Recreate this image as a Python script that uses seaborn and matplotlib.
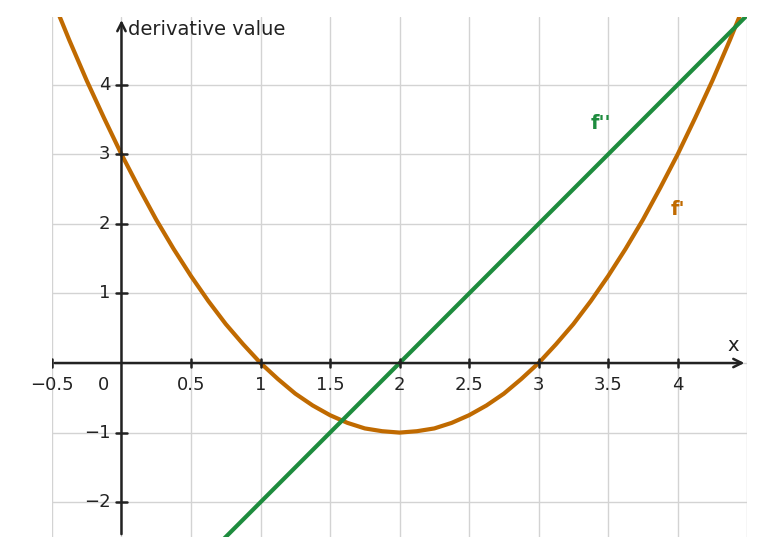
import matplotlib
matplotlib.use("Agg")
import matplotlib.pyplot as plt
import seaborn as sns
import pandas as pd

x1 = [-0.5,-0.375,-0.25,-0.125,0,0.125,0.25,0.375,0.5,0.625,0.75,0.875,1,1.125,1.25,1.375,1.5,1.625,1.75,1.875,2,
      2.125,2.25,2.375,2.5,2.625,2.75,2.875,3,3.125,3.25,3.375,3.5,3.625,3.75,3.875,4,4.125,4.25,4.375,4.5]
f1 = [5.25,4.64,4.06,3.52,3,2.52,2.06,1.64,1.25,0.89,0.56,0.27,0,-0.23,-0.44,-0.61,-0.75,-0.86,-0.94,-0.98,-1,
      -0.98,-0.94,-0.86,-0.75,-0.61,-0.44,-0.23,0,0.27,0.56,0.89,1.25,1.64,2.06,2.52,3,3.52,4.06,4.64,5.25]
x2 = [-0.5, 4.5]
f2 = [-5, 5]
xticks = [0.5,1,1.5,2,2.5,3,3.5,4]
xtick_labels = ["0.5","1","1.5","2","2.5","3","3.5","4"]
yticks = [-2,-1,1,2,3,4]
ytick_labels = ["\u22122","\u22121","1","2","3","4"]

sns.set_style("white")
fig = plt.figure(figsize=(7.64,5.57), dpi=100)
ax = fig.add_axes([0.068,0.036,0.91,0.933])
orange = "#c06a00"; green = "#1e8c3e"
for g in [-0.5,0,0.5,1,1.5,2,2.5,3,3.5,4,4.5]:
    ax.axvline(g, color="#d3d3d3", lw=1, zorder=0)
for g in [-2,-1,0,1,2,3,4]:
    ax.axhline(g, color="#d3d3d3", lw=1, zorder=0)
sns.lineplot(x=x1, y=f1, ax=ax, color=orange, lw=3, sort=False)
sns.lineplot(x=x2, y=f2, ax=ax, color=green, lw=3)
ax.set_xlim(-0.5,4.5); ax.set_ylim(-2.5,4.97)
for s in ax.spines.values(): s.set_visible(False)
ax.set_xticks([]); ax.set_yticks([])
c = "#222222"
ax.annotate("", xy=(4.5,0), xytext=(-0.5,0), arrowprops=dict(arrowstyle="->", color=c, lw=1.8, mutation_scale=15))
ax.annotate("", xy=(0,4.97), xytext=(0,-2.5), arrowprops=dict(arrowstyle="->", color=c, lw=1.8, mutation_scale=15))
for t,l in zip(xticks, xtick_labels):
    ax.plot([t,t],[-0.06,0.06], color=c, lw=1.8)
    ax.text(t,-0.18,l,ha="center",va="top",fontsize=13,color=c)
ax.plot([-0.5,-0.5],[-0.06,0.06], color=c, lw=1.8)
ax.text(-0.5,-0.18,"\u22120.5",ha="center",va="top",fontsize=13,color=c)
ax.text(-0.13,-0.18,"0",ha="center",va="top",fontsize=13,color=c)
for t,l in zip(yticks, ytick_labels):
    ax.plot([-0.04,0.04],[t,t], color=c, lw=1.8)
    ax.text(-0.08,t,l,ha="right",va="center",fontsize=13,color=c)
ax.text(4.4,0.12,"x",ha="center",va="bottom",fontsize=14,color=c)
ax.text(0.05,4.8,"derivative value",ha="left",va="center",fontsize=14,color=c)
ax.text(3.45,3.45,"f''",ha="center",va="center",fontsize=14,color=green,fontweight="bold")
ax.text(4.0,2.2,"f'",ha="center",va="center",fontsize=14,color=orange,fontweight="bold")
fig.savefig("out.png", dpi=100)
